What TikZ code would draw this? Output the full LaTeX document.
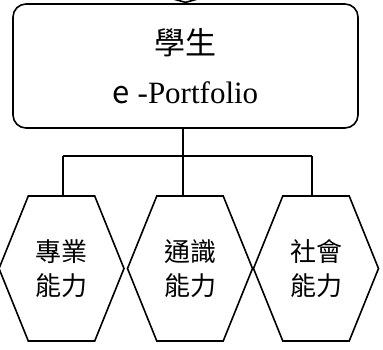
\documentclass[tikz,border=0pt]{standalone}
\usepackage{fontspec}
\setmainfont{Liberation Serif}
\newfontfamily\cjk{Noto Sans CJK TC}
\usetikzlibrary{positioning, shapes, arrows.meta}

\begin{document}
\begin{tikzpicture}[
    x=1pt, y=1pt,
    every node/.style={draw, line width=1.6pt},
    portfolio/.style={rectangle, rounded corners=13pt, minimum width=345pt, minimum height=124pt, align=center, font=\fontsize{31}{49}\selectfont},
    ability/.style={signal, signal to=west and east, signal pointer angle=136, minimum width=125pt, minimum height=145pt, inner sep=0pt, align=center, font=\cjk\fontsize{26}{34}\selectfont},
    point/.style={coordinate}
]
\useasboundingbox (0,0) rectangle (383,-349);

% Portfolio box
\node[portfolio] (student) at (185.5,-66) {{\cjk 學生}\\{\cjk e} -Portfolio};
\coordinate (from_above) at (185.5,40);

% Abilities
\node[ability] (skill_pro) at (61.5,-268.5) {專業\\能力};
\node[ability] (skill_gen) at (190,-268.5) {通識\\能力};
\node[ability] (skill_soc) at (316,-268.5) {社會\\能力};

% bus
\coordinate (bus_mid) at (183,-156);
\coordinate (bus_left) at (63,-156);
\coordinate (bus_right) at (312,-156);

% edges
\draw[line width=1.6pt, -{Triangle[open, length=8pt, width=58pt, line width=1.6pt]}] (from_above) -- (student.north);
\draw[line width=1.6pt] (student.south -| bus_mid) -- (bus_mid);
\draw[line width=1.6pt] (bus_left) -- (bus_right);
\draw[line width=1.6pt] (bus_left) -- (bus_left |- skill_pro.north);
\draw[line width=1.6pt] (bus_mid) -- (bus_mid |- skill_gen.north);
\draw[line width=1.6pt] (bus_right) -- (bus_right |- skill_soc.north);

\end{tikzpicture}
\end{document}
